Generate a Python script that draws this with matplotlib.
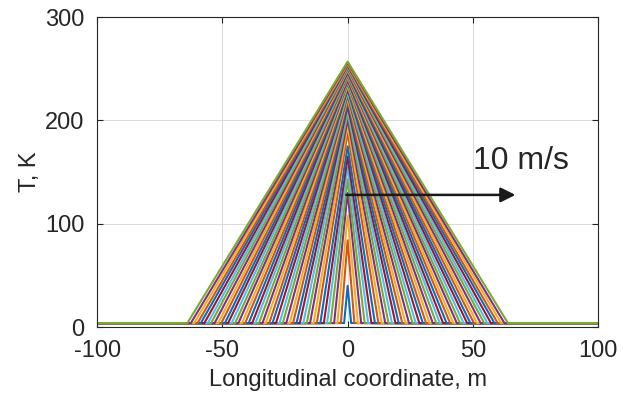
import matplotlib
matplotlib.use("Agg")
import matplotlib.pyplot as plt

plt.rcParams['font.family'] = ['Liberation Sans', 'DejaVu Sans']
plt.rcParams['axes.unicode_minus'] = False

# half-width of each heated zone (m) and its peak temperature (K)
half_widths = [1.4, 2.7, 4.1, 5.4, 6.8, 8.2, 9.5, 10.9, 12.3, 13.6,
               15.0, 16.3, 17.7, 19.1, 20.4, 21.8, 23.1, 24.5, 25.9, 27.2,
               28.6, 30.0, 31.3, 32.7, 34.0, 35.4, 36.8, 38.1, 39.5, 40.9,
               42.2, 43.6, 44.9, 46.3, 47.7, 49.0, 50.4, 51.7, 53.1, 54.5,
               55.8, 57.2, 58.6, 59.9, 61.3, 62.6, 64.0]
peaks = [40, 84, 108, 130, 143, 155, 165, 175, 188, 195,
         201, 207, 211, 214, 217, 220, 222, 224, 226, 228,
         230, 231, 233, 234, 236, 237, 238, 239, 240, 241,
         242, 243, 244, 245, 246, 247, 248, 249, 250, 251,
         252, 253, 254, 254, 255, 256, 257]
base_T = 4
x_lim = (-100, 100)

colors = ['#0072BD', '#D95319', '#EDB120', '#7E2F8E',
          '#77AC30', '#4DBEEE', '#A2142F']

fig = plt.figure(figsize=(6.23, 3.99), dpi=100)
ax = fig.add_axes([0.156, 0.180, 0.804, 0.777])

for i, (w, h) in enumerate(zip(half_widths, peaks)):
    xs = [x_lim[0], -w, 0, w, x_lim[1]]
    ys = [base_T, base_T, h, base_T, base_T]
    ax.plot(xs, ys, color=colors[i % 7], lw=1.5)

ax.annotate('', xy=(67, 128), xytext=(-0.5, 128),
            arrowprops=dict(arrowstyle='-|>', color='#1a1a1a', lw=1.8,
                            mutation_scale=22, shrinkA=0, shrinkB=0))
ax.text(50, 161, '10 m/s', fontsize=23, color='#262626',
        ha='left', va='center')

ax.set_xlim(*x_lim)
ax.set_ylim(0, 300)
ax.set_xticks([-100, -50, 0, 50, 100])
ax.set_yticks([0, 100, 200, 300])
ax.grid(True, color='#dcdcdc', lw=0.8)
ax.set_axisbelow(True)
ax.tick_params(direction='in', length=4, width=0.8, colors='#262626',
               labelsize=17, top=True, right=True)
ax.tick_params(axis='x', pad=9)
ax.tick_params(axis='y', pad=9)
for s in ax.spines.values():
    s.set_color('#262626')
    s.set_linewidth(0.8)
ax.set_xlabel('Longitudinal coordinate, m', fontsize=17, color='#262626',
              labelpad=5)
ax.set_ylabel('T, K', fontsize=17, color='#262626', labelpad=3)

fig.savefig('out.png', dpi=100)
